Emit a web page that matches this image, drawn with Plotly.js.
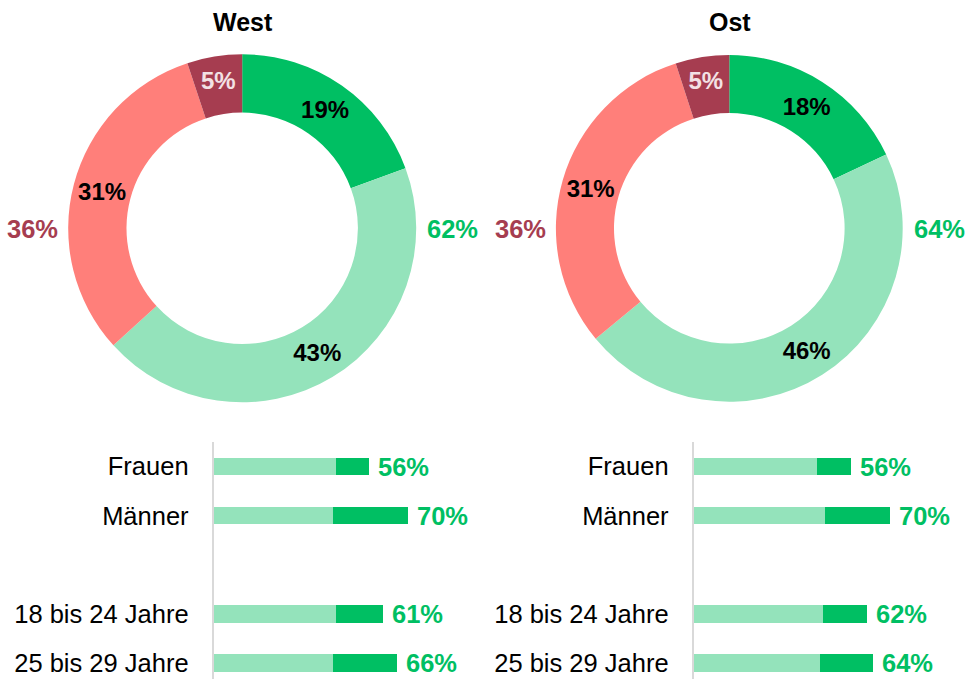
<!DOCTYPE html>
<html>
<head>
<meta charset="utf-8">
<script src="https://cdn.plot.ly/plotly-3.0.1.min.js"></script>
<style>html,body{margin:0;padding:0;background:#fff;}#chart{width:965px;height:679px;}</style>
</head>
<body>
<div id="chart"></div>
<script>
// ---- data ----
var sliceLabels = ['Ja, sicher', 'Ja, eher', 'Nein, eher nicht', 'Nein, sicher nicht'];
var westSlices = [19, 43, 31, 5];
var ostSlices = [18, 46, 31, 5];
var westTotals = [62, 36];   // [Ja gesamt, Nein gesamt]
var ostTotals = [64, 36];
var groupLabels = ['Frauen', 'Männer', '18 bis 24 Jahre', '25 bis 29 Jahre'];
var westLight = [44, 43, 44, 43];
var westDark = [12, 27, 17, 23];
var westTotal = [56, 70, 61, 66];
var ostLight = [44, 47, 46, 45];
var ostDark = [12, 23, 16, 19];
var ostTotal = [56, 70, 62, 64];
var panelTitles = ['West', 'Ost'];

// ---- styles ----
var FONT = 'Liberation Sans, Arial, sans-serif';
var DARK_GREEN = '#00BF63';
var LIGHT_GREEN = '#94E3BB';
var SALMON = '#FF7F7A';
var DARK_RED = '#A63D50';
var sliceColors = [DARK_GREEN, LIGHT_GREEN, SALMON, DARK_RED];
var sliceTextColors = ['#000000', '#000000', '#000000', '#F3E1E4'];

var W = 965, H = 679;
function px(x) { return x / W; }
function py(y) { return 1 - y / H; }

function pieTrace(vals, x0, x1) {
  return {
    type: 'pie', labels: sliceLabels, values: vals, sort: false,
    direction: 'clockwise', rotation: 0, hole: 0.665,
    marker: {colors: sliceColors, line: {width: 0}},
    texttemplate: '%{value}%', textposition: 'inside',
    insidetextorientation: 'horizontal',
    textfont: {family: FONT, size: 24, color: sliceTextColors, weight: 'bold'},
    domain: {x: [px(x0), px(x1)], y: [py(402.3), py(54.3)]},
    showlegend: false, hoverinfo: 'skip'
  };
}

var cats = ['Frauen', 'Männer', ' ', '18 bis 24 Jahre', '25 bis 29 Jahre'];

function barTraces(light, dark, xa, ya) {
  return [
    {type: 'bar', orientation: 'h', y: groupLabels, x: light, xaxis: xa, yaxis: ya,
     marker: {color: LIGHT_GREEN}, showlegend: false, hoverinfo: 'skip'},
    {type: 'bar', orientation: 'h', y: groupLabels, x: dark, xaxis: xa, yaxis: ya,
     marker: {color: DARK_GREEN}, showlegend: false, hoverinfo: 'skip'}
  ];
}

var data = [pieTrace(westSlices, 68.2, 416.2), pieTrace(ostSlices, 555.9, 902.7)]
  .concat(barTraces(westLight, westDark, 'x', 'y'))
  .concat(barTraces(ostLight, ostDark, 'x2', 'y2'));

var annotations = [];
// titles
[[243, panelTitles[0]], [729.5, panelTitles[1]]].forEach(function (t) {
  annotations.push({xref: 'paper', yref: 'paper', x: px(t[0]), y: py(22), text: t[1],
    showarrow: false, xanchor: 'center', yanchor: 'middle',
    font: {family: FONT, size: 25, color: '#000', weight: 'bold'}});
});
// pie totals
function pieTotals(tot, leftEdge, rightEdge) {
  annotations.push({xref: 'paper', yref: 'paper', x: px(rightEdge + 9), y: py(229),
    text: tot[0] + '%', showarrow: false, xanchor: 'left', yanchor: 'middle',
    font: {family: FONT, size: 25.5, color: DARK_GREEN, weight: 'bold'}});
  annotations.push({xref: 'paper', yref: 'paper', x: px(leftEdge - 8), y: py(229),
    text: tot[1] + '%', showarrow: false, xanchor: 'right', yanchor: 'middle',
    font: {family: FONT, size: 25.5, color: DARK_RED, weight: 'bold'}});
}
pieTotals(westTotals, 68.2, 416.2);
pieTotals(ostTotals, 555.9, 902.7);
// bar totals
function barTotals(tot, xa, ya) {
  for (var i = 0; i < groupLabels.length; i++) {
    annotations.push({xref: xa, yref: ya, x: tot[i], y: groupLabels[i],
      text: tot[i] + '%', showarrow: false, xanchor: 'left', yanchor: 'middle',
      xshift: 7, font: {family: FONT, size: 25.5, color: DARK_GREEN, weight: 'bold'}});
  }
}
barTotals(westTotal, 'x', 'y');
barTotals(ostTotal, 'x2', 'y2');

var barDomainY = [0, py(442)];
function xAxis(x0, x1) {
  return {domain: [px(x0), px(x1)], range: [0, 90], visible: false, fixedrange: true};
}
function yAxis(anchor) {
  return {domain: barDomainY, anchor: anchor, type: 'category',
    categoryorder: 'array', categoryarray: cats, range: [4.33, -0.5],
    showline: true, linecolor: '#D9D9D9', linewidth: 2, showgrid: false, zeroline: false,
    ticks: '', ticklabelstandoff: 18,
    tickfont: {family: FONT, size: 25.5, color: '#000'}};
}

var layout = {
  width: W, height: H, margin: {l: 0, r: 0, t: 0, b: 0},
  paper_bgcolor: '#fff', plot_bgcolor: 'rgba(0,0,0,0)',
  barmode: 'stack', bargap: 0.64,
  font: {family: FONT},
  xaxis: xAxis(213.7, 213.7 + 2.78 * 90),
  yaxis: yAxis('x'),
  xaxis2: xAxis(693.7, 693.7 + 2.8 * 90),
  yaxis2: yAxis('x2'),
  annotations: annotations,
  showlegend: false
};

Plotly.newPlot('chart', data, layout, {displayModeBar: false, staticPlot: true});
</script>
</body>
</html>
